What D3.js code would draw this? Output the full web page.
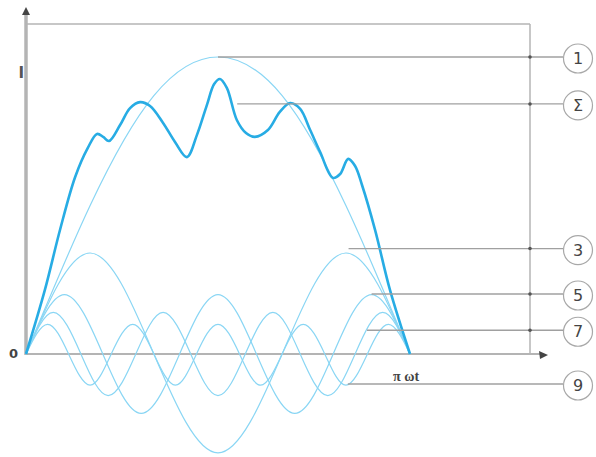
<!DOCTYPE html>
<html>
<head>
<meta charset="utf-8">
<script src="https://cdn.jsdelivr.net/npm/d3@7"></script>
<style>
  body { margin: 0; background: #fff; }
  svg { display: block; }
</style>
</head>
<body>
<svg id="chart" width="596" height="457"></svg>
<script>
// values: t = ωt as fraction of π, v = relative to amplitude of the fundamental
const fundamental = [[0, 0], [0.167, 0.5], [0.333, 0.87], [0.5, 1], [0.667, 0.87], [0.833, 0.5], [1, 0]];
const harmonic3 = [[0, 0], [0.167, 0.34], [0.333, 0], [0.5, -0.333], [0.667, 0], [0.833, 0.34], [1, 0]];
const harmonic5 = [[0, 0], [0.1, 0.2], [0.2, 0], [0.3, -0.2], [0.4, 0], [0.5, 0.2], [0.6, 0], [0.7, -0.2], [0.8, 0], [0.9, 0.2], [1, 0]];
const harmonic7 = [[0, 0], [0.071, 0.14], [0.143, 0], [0.214, -0.14], [0.286, 0], [0.357, 0.14], [0.429, 0],
    [0.5, -0.14], [0.571, 0], [0.643, 0.14], [0.714, 0], [0.786, -0.14], [0.857, 0], [0.929, 0.14], [1, 0]];
const harmonic9 = [[0, 0], [0.056, 0.1], [0.111, 0], [0.167, -0.105], [0.222, 0], [0.278, 0.1], [0.333, 0],
    [0.389, -0.105], [0.444, 0], [0.5, 0.1], [0.556, 0], [0.611, -0.105], [0.667, 0], [0.722, 0.1], [0.778, 0],
    [0.833, -0.105], [0.889, 0], [0.944, 0.1], [1, 0]];
const sumCurve = [[0, 0], [0.049, 0.215], [0.089, 0.42], [0.128, 0.596], [0.161, 0.694], [0.185, 0.741],
    [0.201, 0.731], [0.216, 0.717], [0.245, 0.771], [0.271, 0.828], [0.297, 0.848], [0.323, 0.835],
    [0.357, 0.778], [0.388, 0.714], [0.419, 0.663], [0.445, 0.737], [0.471, 0.838], [0.49, 0.909],
    [0.505, 0.926], [0.523, 0.896], [0.549, 0.788], [0.573, 0.744], [0.596, 0.731], [0.63, 0.754],
    [0.661, 0.815], [0.688, 0.845], [0.714, 0.825], [0.74, 0.754], [0.766, 0.68], [0.799, 0.593],
    [0.818, 0.606], [0.839, 0.657], [0.857, 0.633], [0.875, 0.569], [0.909, 0.418], [0.948, 0.215], [1, 0]];

const labelNames = ['1', 'Σ', '3', '5', '7', '9'];
const labelAnchorT = [0.5, 0.55, 0.84, 0.9, 0.888, 0.838];
const labelAnchorV = [1, 0.842, 0.355, 0.202, 0.08, -0.101];

const svg = d3.select('#chart');
const x = d3.scaleLinear().domain([0, 1]).range([26, 410]);
const y = d3.scaleLinear().domain([0, 1]).range([354, 57]);

const frameRight = 530;
const frameTop = 24;
const grey = '#b4b4b4';

// frame: top line and right line
svg.append('line').attr('x1', x(0)).attr('x2', frameRight).attr('y1', frameTop).attr('y2', frameTop)
    .attr('stroke', grey).attr('stroke-width', 1.5);
svg.append('line').attr('x1', frameRight).attr('x2', frameRight).attr('y1', frameTop).attr('y2', y(0))
    .attr('stroke', grey).attr('stroke-width', 1.5);

// axes
svg.append('line').attr('x1', x(0)).attr('x2', 541).attr('y1', y(0)).attr('y2', y(0))
    .attr('stroke', grey).attr('stroke-width', 2);
svg.append('line').attr('x1', x(0)).attr('x2', x(0)).attr('y1', 13).attr('y2', y(0) + 1)
    .attr('stroke', grey).attr('stroke-width', 3.5);
svg.append('path').attr('d', `M${x(0)},7 L${x(0) - 4},15 L${x(0) + 4},15 Z`).attr('fill', '#444');
svg.append('path').attr('d', `M548,${y(0) + 1} L539,${y(0) - 3} L540,${y(0) + 5} Z`).attr('fill', '#444');

svg.append('text').attr('x', 18).attr('y', y(0) + 4).attr('text-anchor', 'end')
    .attr('font-family', 'DejaVu Sans, sans-serif').attr('font-size', 13).attr('font-weight', 'bold')
    .attr('fill', '#444').text('0');
svg.append('text').attr('x', 24).attr('y', 78).attr('text-anchor', 'end')
    .attr('font-family', 'DejaVu Sans, sans-serif').attr('font-size', 15).attr('font-weight', 'bold')
    .attr('fill', '#555').text('I');
svg.append('text').attr('x', 393).attr('y', 381)
    .attr('font-family', 'Liberation Serif, serif').attr('font-size', 14).attr('font-weight', 'bold')
    .attr('fill', '#444').text('π ωt');

// curves
const line = d3.line()
    .x((d) => x(d[0]))
    .y((d) => y(d[1]))
    .curve(d3.curveNatural);

const lightBlue = '#8ad6f4';
[fundamental, harmonic3, harmonic5, harmonic7, harmonic9].forEach((series) => {
    svg.append('path').datum(series).attr('d', line)
        .attr('fill', 'none').attr('stroke', lightBlue).attr('stroke-width', 1.2);
});

svg.append('path').datum(sumCurve).attr('d', line.curve(d3.curveCatmullRom.alpha(0.5)))
    .attr('fill', 'none').attr('stroke', '#27ace4').attr('stroke-width', 2.6)
    .attr('stroke-linejoin', 'round');

// leader lines and circled labels
const circleX = 578;
const labels = svg.append('g');
labelNames.forEach((name, i) => {
    const ly = y(labelAnchorV[i]);
    labels.append('line').attr('x1', x(labelAnchorT[i])).attr('x2', circleX - 15).attr('y1', ly).attr('y2', ly)
        .attr('stroke', '#a0a0a0').attr('stroke-width', 1.3);
    if (ly < y(0)) {
        labels.append('circle').attr('cx', frameRight).attr('cy', ly).attr('r', 1.8).attr('fill', '#555');
    }
    labels.append('circle').attr('cx', circleX).attr('cy', ly + 1.5).attr('r', 14.5)
        .attr('fill', '#fff').attr('stroke', '#a8a8a8').attr('stroke-width', 1.2);
    labels.append('text').attr('x', circleX).attr('y', ly + 7)
        .attr('text-anchor', 'middle')
        .attr('font-family', 'DejaVu Sans, sans-serif').attr('font-size', 16)
        .attr('fill', '#444').text(name);
});
</script>
</body>
</html>
